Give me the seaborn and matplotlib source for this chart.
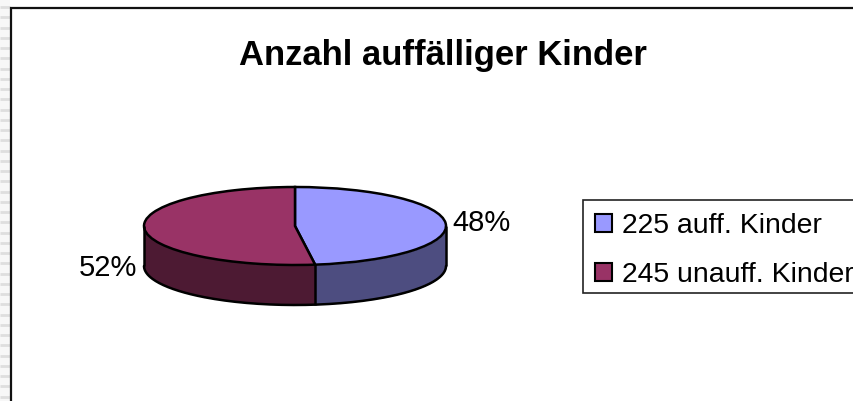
import numpy as np
import matplotlib
matplotlib.use("Agg")
import matplotlib.pyplot as plt
import seaborn as sns

categories = ["225 auff. Kinder", "245 unauff. Kinder"]
values = [225, 245]
top_colors = ["#9999FF", "#993366"]
side_colors = ["#4D4D80", "#4D1A33"]
title = "Anzahl auffälliger Kinder"

sns.set_theme(style="white")
plt.rcParams["font.family"] = ["Liberation Sans", "DejaVu Sans"]

W, H = 854, 401
CX, CY, RX, RY, DEPTH = 295, 226, 151, 39, 40
LW = 1.8

fig = plt.figure(figsize=(W / 100, H / 100), dpi=100, facecolor="white")

# pixel-space background: striped margin, frame, legend box, texts
bg = fig.add_axes([0, 0, 1, 1], zorder=0)
bg.set_xlim(0, W)
bg.set_ylim(H, 0)
bg.axis("off")
bg.add_patch(plt.Rectangle((0, 0), 10, H, color="#F7F7F7", lw=0))
bg.hlines(np.arange(7, H, 10.25), 0, 10, color="#DEDEDE", lw=2)
bg.plot([11, 11, W], [H, 7.5, 7.5], color="#111111", lw=1.6, solid_joinstyle="miter")
bg.add_patch(plt.Rectangle((583.5, 200), 320, 93, facecolor="white", edgecolor="#222222", lw=1.2))

# pie in unit-circle coordinates, flattened by a free aspect
ax = fig.add_axes([0, 0, 1, 1], zorder=1)
ax.patch.set_alpha(0)
d = DEPTH / RY
shares = np.array(values) / sum(values)
split = 90 - 360 * shares[0]
edge = dict(edgecolor="black", linewidth=LW)

t1 = np.radians(np.linspace(0, split, 80))
t2 = np.radians(np.linspace(split, -180, 80))
for t, c in zip([t1, t2], side_colors):
    ax.fill_between(np.cos(t), np.sin(t), np.sin(t) - d, color=c, lw=0)
t = np.radians(np.linspace(0, -180, 160))
ax.plot(np.cos(t), np.sin(t) - d, color="black", lw=LW)
ax.vlines([-1, np.cos(np.radians(split)), 1],
          [0, np.sin(np.radians(split)), 0],
          [-d, np.sin(np.radians(split)) - d, -d],
          color="black", lw=LW)
wedges, _ = ax.pie(values, colors=top_colors, startangle=90, counterclock=False,
                   wedgeprops=edge)
ax.set_aspect("auto")
ax.set_xlim(-CX / RX, (W - CX) / RX)
ax.set_ylim(-(H - CY) / RY, CY / RY)

bg.text(442.5, 56, title, ha="center", va="center", fontsize=24.9, fontweight="bold", color="black")
pcts = [f"{s * 100:.0f}%" for s in shares]
bg.text(482, 223, pcts[0], ha="center", va="center", fontsize=21, color="black")
bg.text(107.5, 268, pcts[1], ha="center", va="center", fontsize=21, color="black")

leg = ax.legend(wedges, categories, loc="upper left",
                bbox_to_anchor=(583 / W, 1 - 201 / H), bbox_transform=fig.transFigure,
                fontsize=20.4, frameon=False, borderaxespad=0, borderpad=0.42,
                handlelength=0.6, handleheight=0.6, handletextpad=0.35,
                labelspacing=0.82, labelcolor="black")
for h in leg.legend_handles:
    h.set_edgecolor("black")
    h.set_linewidth(1.5)

fig.savefig("out.png", dpi=100)
